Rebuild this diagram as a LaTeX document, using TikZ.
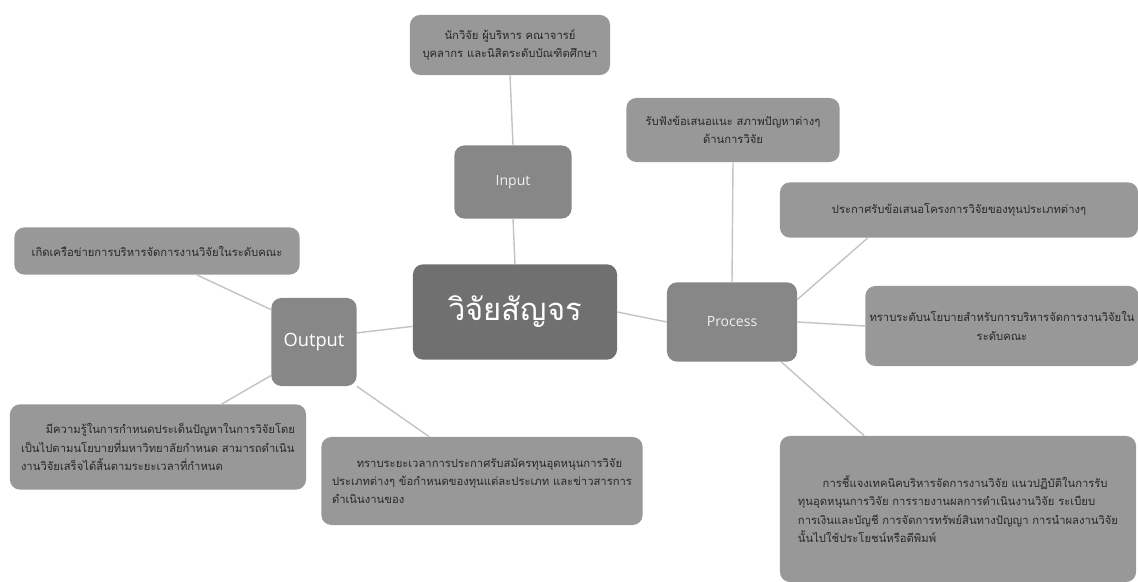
\documentclass[tikz,border=0pt]{standalone}
\usepackage{fontspec}
\usepackage{xcolor}
\usepackage{tikz}
\setmainfont[Script=Thai]{Loma}
\newfontfamily\labelfont{Open Sans}
\definecolor{boxgray}{RGB}{152,152,152}
\definecolor{midgray}{RGB}{135,135,135}
\definecolor{darkgray}{RGB}{112,112,112}
\definecolor{linegray}{RGB}{195,195,195}
\definecolor{inkgray}{RGB}{40,40,40}

\begin{document}
\begin{tikzpicture}[x=0.025cm,y=-0.025cm,
    leaf/.style={draw=none,fill=boxgray,rounded corners=0.25cm,text=inkgray,
      font=\fontsize{8}{13}\selectfont,inner sep=2pt},
    hub/.style={draw=none,fill=midgray,rounded corners=0.25cm,text=white!88!gray,
      font=\labelfont\fontsize{10}{12}\selectfont},
    link/.style={draw=linegray,line width=1pt}]
  \useasboundingbox (0,0) rectangle (1138,582);
  % centre and the three hubs
  \node[hub,fill=darkgray,minimum width=5.1cm,minimum height=2.38cm,text=white,
    font=\fontsize{22}{26}\selectfont] (centre) at (515,312) {วิจัยสัญจร};
  \node[hub,minimum width=2.93cm,minimum height=1.83cm] (input) at (513,182) {Input};
  \node[hub,minimum width=3.25cm,minimum height=1.98cm] (process) at (732,322) {Process};
  \node[hub,minimum width=2.13cm,minimum height=2.2cm,text=white,
    font=\labelfont\fontsize{13}{15}\selectfont] (output) at (314,342) {Output};
  % leaves
  \node[leaf,minimum width=5cm,minimum height=1.5cm,align=center] (who) at (510,45)
    {นักวิจัย ผู้บริหาร คณาจารย์\\บุคลากร และนิสิตระดับบัณฑิตศึกษา};
  \node[leaf,minimum width=5.33cm,minimum height=1.6cm,align=center] (listen) at (733,130)
    {รับฟังข้อเสนอแนะ สภาพปัญหาต่างๆ\\ด้านการวิจัย};
  \node[leaf,minimum width=8.95cm,minimum height=1.38cm,align=center] (call) at (959,210)
    {ประกาศรับข้อเสนอโครงการวิจัยของทุนประเภทต่างๆ};
  \node[leaf,minimum width=6.83cm,minimum height=2cm,align=center] (policy) at (1002,326)
    {ทราบระดับนโยบายสำหรับการบริหารจัดการงานวิจัยใน\\ระดับคณะ};
  \node[leaf,minimum width=8.9cm,minimum height=3.65cm,align=left] (explain) at (958,509)
    {\hspace*{2.2em}การชี้แจงเทคนิคบริหารจัดการงานวิจัย แนวปฏิบัติในการรับ\\
     ทุนอุดหนุนการวิจัย การรายงานผลการดำเนินงานวิจัย ระเบียบ\\
     การเงินและบัญชี การจัดการทรัพย์สินทางปัญญา การนำผลงานวิจัย\\
     นั้นไปใช้ประโยชน์หรือตีพิมพ์};
  \node[leaf,minimum width=8.03cm,minimum height=2.2cm,align=left] (news) at (482,481)
    {\hspace*{2.2em}ทราบระยะเวลาการประกาศรับสมัครทุนอุดหนุนการวิจัย\\
     ประเภทต่างๆ ข้อกำหนดของทุนแต่ละประเภท และข่าวสารการ\\
     ดำเนินงานของ};
  \node[leaf,minimum width=7.4cm,minimum height=2.13cm,align=left] (know) at (158,447)
    {\hspace*{2.2em}มีความรู้ในการกำหนดประเด็นปัญหาในการวิจัยโดย\\
     เป็นไปตามนโยบายที่มหาวิทยาลัยกำหนด สามารถดำเนิน\\
     งานวิจัยเสร็จได้สิ้นตามระยะเวลาที่กำหนด};
  \node[leaf,minimum width=7.13cm,minimum height=1.18cm,align=center] (network) at (157,251)
    {เกิดเครือข่ายการบริหารจัดการงานวิจัยในระดับคณะ};

  \draw[link] %
    (who.south) -- (input.north)%
    (input.south) -- (centre.north)%
    (centre.east) -- (process.west)%
    (centre.188) -- (output.12);
  \draw[link] %
    (process.north) -- (listen.south)%
    (process.19) -- (call.197)%
    (process.east) -- (policy.west)%
    (process.321) -- (explain.142);
  \draw[link] %
    (output.143) -- (network.329)%
    (output.218) -- (know.34)%
    (output.314) -- (news.140);

\end{tikzpicture}
\end{document}
